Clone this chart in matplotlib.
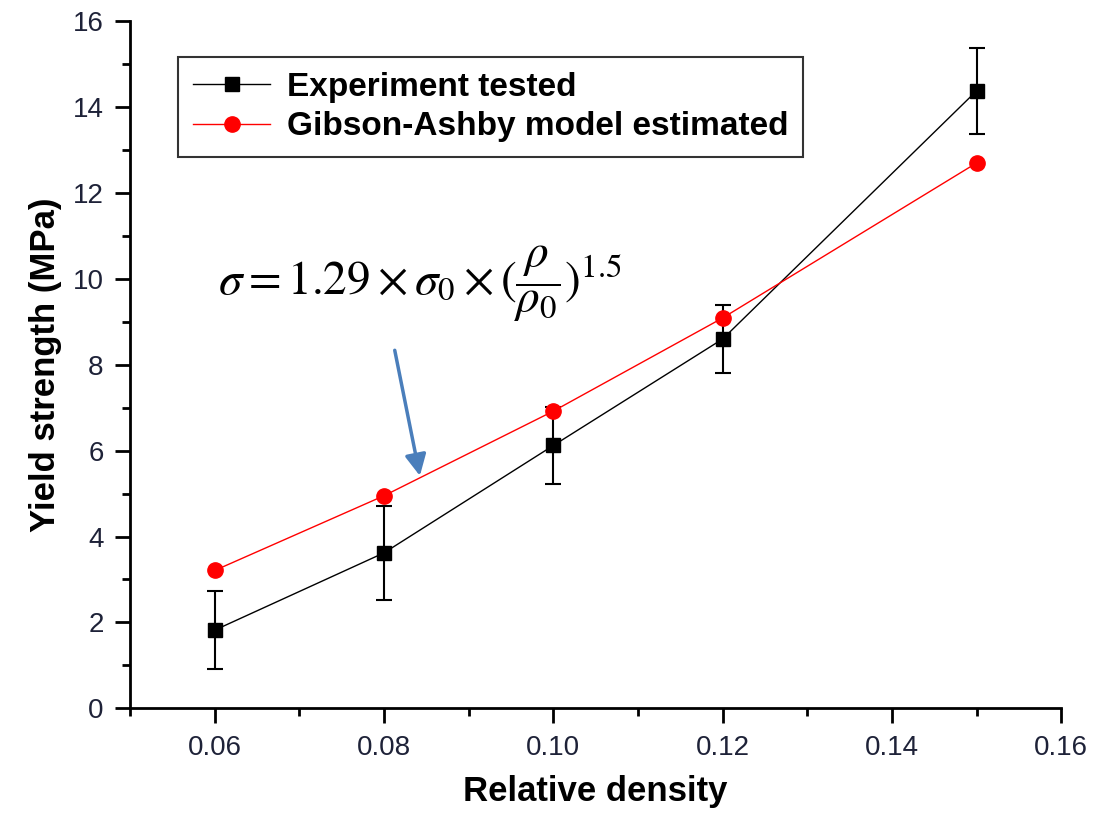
import numpy as np
import matplotlib
matplotlib.use("Agg")
import matplotlib.pyplot as plt

density = [0.06, 0.08, 0.10, 0.12, 0.15]
tested = [1.82, 3.62, 6.12, 8.60, 14.38]
tested_err = [0.90, 1.10, 0.90, 0.80, 1.00]
model = [3.21, 4.95, 6.92, 9.09, 12.70]

xticks = [0.06, 0.08, 0.10, 0.12, 0.14, 0.16]
yticks = [0, 2, 4, 6, 8, 10, 12, 14, 16]

plt.rcParams['font.family'] = ['Liberation Sans', 'DejaVu Sans']
plt.rcParams['mathtext.fontset'] = 'stix'

fig = plt.figure(figsize=(10.93, 8.16), dpi=100)
ax = fig.add_axes([0.119, 0.132, 0.852, 0.842])

ax.errorbar(density, tested, yerr=tested_err, fmt='none', ecolor='black',
            elinewidth=1.5, capsize=6, capthick=1.5, zorder=2)
ax.plot(density, tested, '-s', color='black', lw=1, ms=10,
        label='Experiment tested', zorder=3)
ax.plot(density, model, '-o', color='red', lw=1, ms=11,
        label='Gibson-Ashby model estimated', zorder=3)

ax.set_xlim(0.05, 0.16)
ax.set_ylim(0, 16)
ax.set_xticks(xticks)
ax.set_xticklabels([f"{t:.2f}" for t in xticks])
ax.set_yticks(yticks)
ax.set_xticks(np.arange(0.05, 0.165, 0.01), minor=True)
ax.set_yticks(np.arange(1, 16, 2), minor=True)

for s in ['top', 'right']:
    ax.spines[s].set_visible(False)
for s in ['left', 'bottom']:
    ax.spines[s].set_linewidth(2)

ax.tick_params(which='major', direction='out', length=11, width=2,
               labelsize=20, labelcolor='#1e2238', pad=8)
ax.tick_params(which='minor', direction='out', length=6, width=2)

ax.set_xlabel("Relative density", fontsize=25, fontweight='bold', labelpad=10)
ax.set_ylabel("Yield strength (MPa)", fontsize=25, fontweight='bold', labelpad=8)

leg = ax.legend(loc='upper left', bbox_to_anchor=(0.052, 0.948),
                prop={'weight': 'bold', 'size': 24}, frameon=True, fancybox=False,
                edgecolor='black', handlelength=2.3, borderpad=0.45,
                labelspacing=0.25, handletextpad=0.5, borderaxespad=0)
leg.get_frame().set_linewidth(1.5)

ax.text(0.0604, 9.9,
        r"$\sigma = 1.29\times\sigma_0\times(\dfrac{\rho}{\rho_0})^{1.5}$",
        fontsize=34, color='black', va='center')

ax.annotate("", xy=(0.0843, 5.35), xytext=(0.0812, 8.4),
            arrowprops=dict(arrowstyle='-|>', color='#4a7ebb', lw=2.5,
                            mutation_scale=32))

fig.savefig("out.png", dpi=100)
